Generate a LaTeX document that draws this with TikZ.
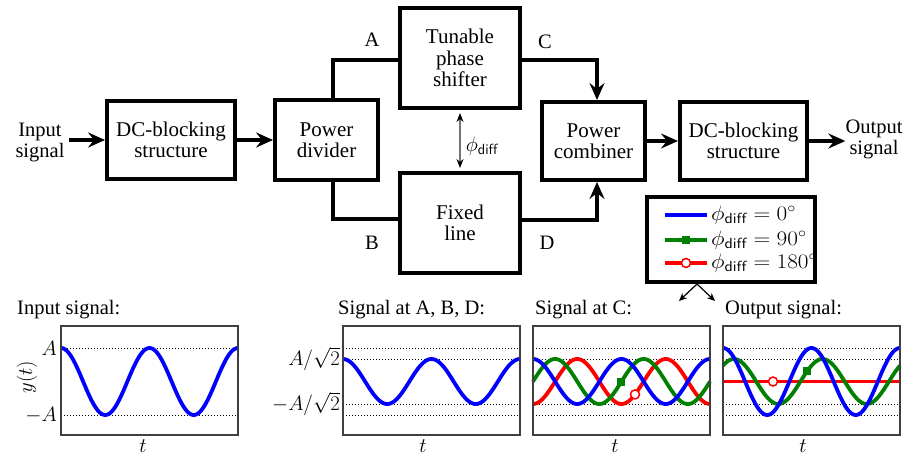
\documentclass[tikz,border=0pt]{standalone}
\usepackage{fontspec}
\setmainfont{Liberation Serif}
\usetikzlibrary{arrows.meta,calc}
\begin{document}
\begin{tikzpicture}[x=1pt,y=-1pt,
 blk/.style={draw, line width=4pt, align=center, inner sep=0pt, font=\fontsize{21}{21.5}\selectfont},
 conn/.style={line width=3.5pt},
 bigarr/.style={conn, -{Stealth[length=17pt,width=15pt,inset=6pt]}},
 lbl/.style={font=\fontsize{20.5}{21}\selectfont, inner sep=0pt},
 mlbl/.style={font=\fontsize{21}{21}\selectfont, inner sep=0pt},
 frame/.style={draw=black!75, line width=1.5pt, inner sep=0pt, minimum width=177pt, minimum height=109pt},
 dotl/.style={dotted, line width=1pt},
 bluec/.style={draw=blue, line width=3.8pt},
 greenc/.style={draw=green!50!black, line width=3.8pt},
 redc/.style={draw=red, line width=3.8pt},
 gsq/.style={fill=green!50!black, minimum size=8pt, inner sep=0pt},
 rcirc/.style={circle, draw=red, fill=white, line width=1.5pt, minimum size=9pt, inner sep=0pt},
 thinarr/.style={line width=1.2pt, -{Stealth[length=8pt,width=7pt]}},
 legtxt/.style={font=\fontsize{21}{21}\selectfont, inner sep=0pt, anchor=west}
]
\def\kk{4.0678}
\useasboundingbox (0,0) rectangle (919,458);

% ---------- block diagram ----------
\node[lbl, align=center] (inp) at (40,142) {Input\\signal};
\node[blk, minimum width=128pt, minimum height=78pt] (dc1) at (171,140) {DC-blocking\\structure};
\node[blk, minimum width=103pt, minimum height=80pt] (div) at (326.5,140) {Power\\divider};
\node[blk, minimum width=120pt, minimum height=100pt] (tun) at (460,58) {Tunable\\phase\\shifter};
\node[blk, minimum width=120pt, minimum height=100pt] (fix) at (460,223) {Fixed\\line};
\node[blk, minimum width=103pt, minimum height=78pt] (comb) at (593.5,141) {Power\\combiner};
\node[blk, minimum width=127pt, minimum height=78pt] (dc2) at (743.5,141) {DC-blocking\\structure};
\node[lbl, align=center] (outp) at (874,139) {Output\\signal};

\node[lbl] (la) at (372,40) {A};
\node[lbl] (lb) at (372,243) {B};
\node[lbl] (lc) at (545,42) {C};
\node[lbl] (ld) at (547,243) {D};

\draw[bigarr] ([xshift=4pt]inp.east |- dc1.west) -- (dc1.west);
\draw[bigarr] (dc1.east) -- (div.west);
\draw[conn] ([xshift=6.5pt]div.north) |- ([yshift=-2pt]tun.west);
\draw[conn] ([xshift=6.5pt]div.south) |- ([yshift=4pt]fix.west);
\draw[bigarr] ([yshift=-2pt]tun.east) -| ([xshift=3.5pt]comb.north);
\draw[bigarr] ([yshift=3pt]fix.east) -| ([xshift=3.5pt]comb.south);
\draw[bigarr] (comb.east) -- (dc2.west);
\draw[bigarr] (dc2.east) -- (dc2.east -| outp.west);

\draw[black!55, line width=1.3pt, {Stealth[length=9pt,width=7pt,black]}-{Stealth[length=9pt,width=7pt,black]}, shorten >=3pt, shorten <=3pt] (tun.south) -- (fix.north);
\node[font=\fontsize{21}{21}\selectfont, inner sep=0pt] (phl) at (482,146) {$\phi_{\mathsf{diff}}$};

% ---------- legend ----------
\node[draw, line width=4pt, minimum width=168pt, minimum height=85pt, inner sep=0pt] (leg) at (731,239.5) {};
\draw[bluec] (665,215) -- (707,215);
\draw[greenc] (665,240) -- (707,240);
\node[gsq] (lgm) at (686,240) {};
\draw[redc] (665,263) -- (707,263);
\node[rcirc] (lrm) at (686,263) {};
\node[legtxt] (l1) at (711,215) {\scalebox{1.12}[1]{$\phi_{\mathsf{diff}} = 0^\circ$}};
\node[legtxt] (l2) at (711,240) {\scalebox{1.12}[1]{$\phi_{\mathsf{diff}} = 90^\circ$}};
\node[legtxt] (l3) at (711,263) {\scalebox{1.12}[1]{$\phi_{\mathsf{diff}} = 180^\circ$}};
\coordinate (lgo) at (697,284);
\coordinate (lga) at (679,301);
\coordinate (lgb) at (715,301);
\draw[thinarr] (lgo) -- (lga);
\draw[thinarr] (lgo) -- (lgb);

% ---------- plot 1 ----------
\node[lbl, anchor=west] (t1) at (17,310) {Input signal:};
\draw[dotl] (61,348) -- (238,348);
\draw[dotl] (61,415) -- (238,415);
\draw[bluec] plot[domain=61:238, samples=150, smooth] (\x,{381.5-33.5*cos(\kk*(\x-61))});
\node[frame] (p1) at (149.5,380.5) {};
\node[mlbl, anchor=east] (a1) at (57,348) {$A$};
\node[mlbl, anchor=east] (a2) at (57,415) {$-A$};
\node[mlbl, rotate=90] (yt) at (27,377) {$y(t)$};
\node[mlbl] (x1) at (143,446) {$t$};

% ---------- plot 2 ----------
\node[lbl, anchor=west] (t2) at (338,310) {Signal at A, B, D:};
\draw[dotl] (343,348) -- (520,348);
\draw[dotl] (343,359) -- (520,359);
\draw[dotl] (343,404) -- (520,404);
\draw[dotl] (343,415) -- (520,415);
\draw[bluec] plot[domain=343:520, samples=150, smooth] (\x,{381.5-22.5*cos(\kk*(\x-343))});
\node[frame] (p2) at (431.5,380.5) {};
\node[mlbl, anchor=east] (b1) at (340,359) {$A/\sqrt{2}$};
\node[mlbl, anchor=east] (b2) at (340,404) {$-A/\sqrt{2}$};
\node[mlbl] (x2) at (423,446) {$t$};

% ---------- plot 3 ----------
\node[lbl, anchor=west] (t3) at (535,310) {Signal at C:};
\draw[dotl] (533,348) -- (710,348);
\draw[dotl] (533,359) -- (710,359);
\draw[dotl] (533,404) -- (710,404);
\draw[dotl] (533,415) -- (710,415);
\draw[redc] plot[domain=533:710, samples=150, smooth] (\x,{381.5+22.5*cos(\kk*(\x-533))});
\draw[greenc] plot[domain=533:710, samples=150, smooth] (\x,{381.5-22.5*cos(\kk*(\x-533)-90)});
\draw[bluec] plot[domain=533:710, samples=150, smooth] (\x,{381.5-22.5*cos(\kk*(\x-533))});
\node[gsq] (m3g) at (621,{381.5-22.5*cos(\kk*88-90)}) {};
\node[rcirc] (m3r) at (635,{381.5+22.5*cos(\kk*102)}) {};
\node[frame] (p3) at (621.5,380.5) {};
\node[mlbl] (x3) at (615,446) {$t$};

% ---------- plot 4 ----------
\node[lbl, anchor=west] (t4) at (725,310) {Output signal:};
\draw[dotl] (723,348) -- (900,348);
\draw[dotl] (723,359) -- (900,359);
\draw[dotl] (723,404) -- (900,404);
\draw[dotl] (723,415) -- (900,415);
\draw[redc] (723,381.5) -- (900,381.5);
\draw[greenc] plot[domain=723:900, samples=150, smooth] (\x,{381.5-22.5*cos(\kk*(\x-723)-45)});
\draw[bluec] plot[domain=723:900, samples=150, smooth] (\x,{381.5-33.5*cos(\kk*(\x-723))});
\node[rcirc] (m4r) at (773,381.5) {};
\node[gsq] (m4g) at (807,{381.5-22.5*cos(\kk*84-45)}) {};
\node[frame] (p4) at (811.5,380.5) {};
\node[mlbl] (x4) at (803,446) {$t$};
\end{tikzpicture}
\end{document}
